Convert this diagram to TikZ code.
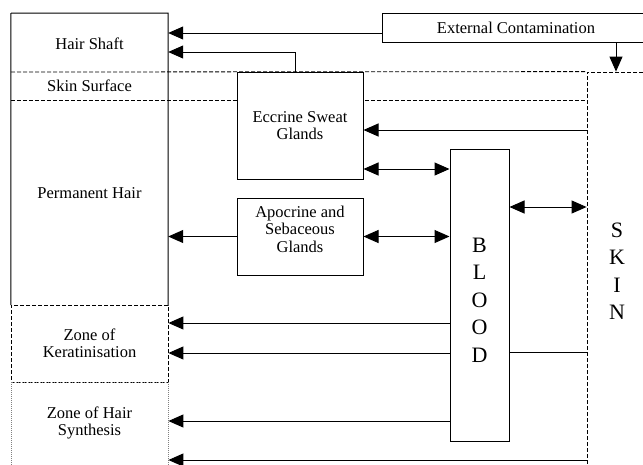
\documentclass[tikz,border=0pt]{standalone}
\usepackage{fontspec}
\setmainfont{Liberation Serif}
\usetikzlibrary{arrows.meta}
\tikzset{
  box/.style={draw, rectangle, inner sep=0pt, line width=1pt, align=center, font=\fontsize{16.5}{17.5}\selectfont},
  plain/.style={rectangle, inner sep=0pt, align=center, font=\fontsize{16.5}{17.5}\selectfont},
  big/.style={rectangle, inner sep=0pt, align=center, font=\fontsize{22}{27.5}\selectfont},
  ln/.style={line width=1pt},
  arr/.style={ln, -{Triangle[length=15pt,width=13pt]}},
  darr/.style={ln, {Triangle[length=15pt,width=13pt]}-{Triangle[length=15pt,width=13pt]}},
  dsh/.style={line width=0.8pt, dash pattern=on 4pt off 2pt},
  dts/.style={line width=0.8pt, gray, dash pattern=on 1pt off 1pt}
}
\begin{document}
\begin{tikzpicture}[x=1pt,y=-1pt]
\useasboundingbox (0,0) rectangle (643,464);
\clip (0,0) rectangle (643,464);
% left column
\node[plain, minimum width=157pt, minimum height=59pt] (hs) at (89.5,44) {Hair Shaft};
\node[plain, minimum width=157pt, minimum height=28pt] (ss) at (89.5,86) {Skin Surface};
\node[plain, minimum width=157pt, minimum height=205pt, label={[plain, yshift=9.5pt]center:Permanent Hair}] (ph) at (89.5,202.5) {};
\node[box, dsh, minimum width=157pt, minimum height=77pt] (ker) at (89.5,343.5) {Zone of\\Keratinisation};
\node[box, dts, draw=gray, minimum width=157pt, minimum height=88pt, label={[plain, yshift=3pt]center:Zone of Hair\\Synthesis}] (syn) at (89.5,426) {};
\draw[ln] (11,13) -- (168,13) -- (ph.south east);
\draw[ln] (11,13) -- (ph.south west);
% skin region
\node[big, draw, dsh, minimum width=60pt, minimum height=398pt] (skin) at (617,271) {S\\K\\I\\N};
\draw[dsh] (11,72) -- (skin.north west);
\draw[dsh] (ss.south west) -- (ss.south west -| skin.west);
% glands
\node[box, fill=white, minimum width=126pt, minimum height=107pt] (ecc) at (300,125.5) {Eccrine Sweat\\Glands};
\node[box, minimum width=126pt, minimum height=77pt] (apo) at (300,236.5) {};
\node[plain] (apotext) at (300,229) {Apocrine and\\Sebaceous\\Glands};
% blood
\node[box, minimum width=59pt, minimum height=292pt] (blood) at (479.5,295) {};
\node[big] (bloodtext) at (479.5,300) {B\\L\\O\\O\\D};
% external contamination
\node[box, minimum width=268pt, minimum height=29pt] (ext) at (516,27.5) {External Contamination};
% coordinates
\coordinate (e1) at (382,33);
\coordinate (e2) at (616,42);
\coordinate (c1) at (295,72);
\coordinate (c2) at (295,52);
\coordinate (s1) at (587,130);
\coordinate (y169) at (0,169);
\coordinate (y207) at (0,207);
\coordinate (y323) at (0,323);
\coordinate (y353) at (0,353);
\coordinate (y421) at (0,421);
\coordinate (y460) at (0,460);
\coordinate (y352) at (0,352);
% connectors
\draw[arr] (e1) -- (e1 -| hs.east);
\draw[arr] (e2) -- (e2 |- skin.north);
\draw[ln] (c1) -- (c2);
\draw[arr] (c2) -- (c2 -| hs.east);
\draw[arr] (s1) -- (s1 -| ecc.east);
\draw[arr] (apo.west) -- (apo.west -| ph.east);
\draw[darr] (y169 -| ecc.east) -- (y169 -| blood.west);
\draw[darr] (apo.east) -- (apo.east -| blood.west);
\draw[darr] (y207 -| blood.east) -- (y207 -| skin.west);
\draw[arr] (y323 -| blood.west) -- (y323 -| ker.east);
\draw[arr] (y353 -| blood.west) -- (y353 -| ker.east);
\draw[arr] (y421 -| blood.west) -- (y421 -| syn.east);
\draw[arr] (y460 -| skin.west) -- (y460 -| syn.east);
\draw[ln] (y352 -| blood.east) -- (y352 -| skin.west);
\end{tikzpicture}
\end{document}
